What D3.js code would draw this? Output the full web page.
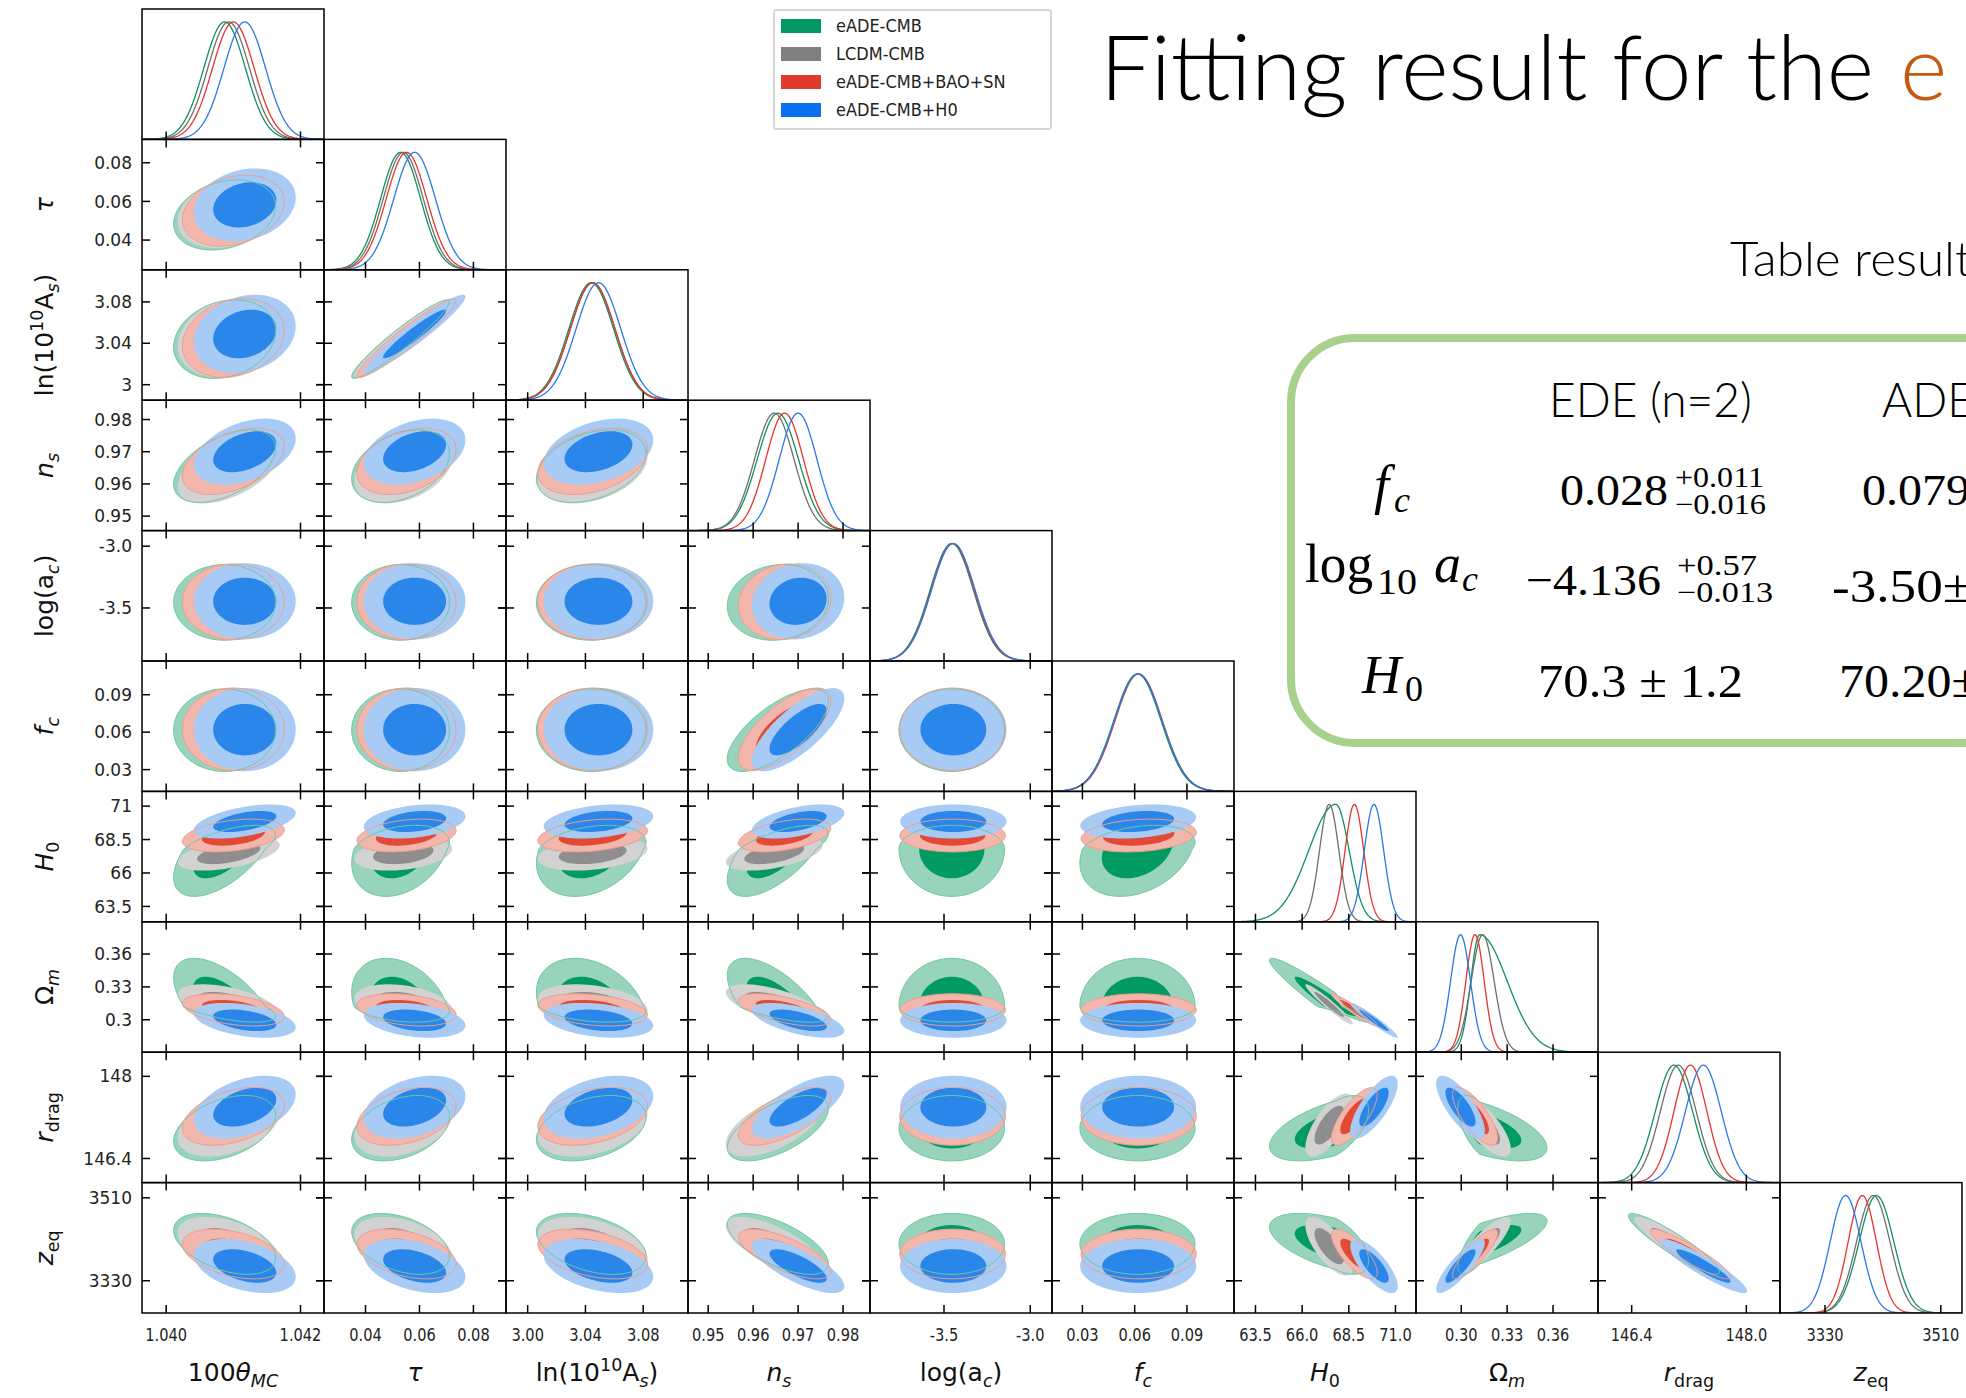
<!DOCTYPE html>
<html>
<head>
<meta charset="utf-8">
<script src="https://cdn.jsdelivr.net/npm/d3@7"></script>
<style>
  body { margin: 0; background: #fff; }
</style>
</head>
<body>
<div id="chart"></div>
<script>
// ---- data ----
const paramNames = ["theta", "tau", "lnAs", "ns", "logac", "fc", "H0", "Om", "rdrag", "zeq"];
const domains = [
  [1.03964, 1.04235], [0.02462, 0.09207], [2.985, 3.111], [0.9455, 0.9860],
  [-3.929, -2.874], [0.01255, 0.117], [62.35, 72.1], [0.2704, 0.3894],
  [145.93, 148.47], [3260, 3543]
];
const xTicks = [
  [1.040, 1.042], [0.04, 0.06, 0.08], [3.00, 3.04, 3.08], [0.95, 0.96, 0.97, 0.98],
  [-3.5, -3.0], [0.03, 0.06, 0.09], [63.5, 66.0, 68.5, 71.0], [0.30, 0.33, 0.36],
  [146.4, 148.0], [3330, 3510]
];
const xTickText = [
  ["1.040", "1.042"], ["0.04", "0.06", "0.08"], ["3.00", "3.04", "3.08"],
  ["0.95", "0.96", "0.97", "0.98"], ["-3.5", "-3.0"], ["0.03", "0.06", "0.09"],
  ["63.5", "66.0", "68.5", "71.0"], ["0.30", "0.33", "0.36"], ["146.4", "148.0"], ["3330", "3510"]
];
const yTickText = [
  [], ["0.04", "0.06", "0.08"], ["3", "3.04", "3.08"], ["0.95", "0.96", "0.97", "0.98"],
  ["-3.5", "-3.0"], ["0.03", "0.06", "0.09"], ["63.5", "66", "68.5", "71"],
  ["0.3", "0.33", "0.36"], ["146.4", "148"], ["3330", "3510"]
];

const seriesNames = ["eADE-CMB", "LCDM-CMB", "eADE-CMB+BAO+SN", "eADE-CMB+H0"];
// peak position and (lower / upper) widths of each parameter
const eadeMode  = [1.04087, 0.0530, 3.044, 0.9655, -3.455, 0.0616, 67.8, 0.3120, 146.99, 3410];
const eadeSigLo = [0.00031, 0.0074, 0.0155, 0.0046, 0.125, 0.0135, 1.45, 0.0058, 0.26, 27];
const eadeSigHi = [0.00031, 0.0074, 0.0155, 0.0046, 0.125, 0.0135, 0.72, 0.0180, 0.26, 27];
const lcdmMode  = [1.04093, 0.0540, 3.045, 0.9647, null, null, 67.45, 0.3140, 147.05, 3405];
const lcdmSig   = [0.00031, 0.0074, 0.0155, 0.0044, null, null, 0.52, 0.0075, 0.25, 26];
const baoMode   = [1.04100, 0.0552, 3.045, 0.9670, -3.450, 0.0623, 68.8, 0.3090, 147.22, 3388];
const baoSig    = [0.00031, 0.0075, 0.0155, 0.0042, 0.125, 0.0135, 0.50, 0.0060, 0.23, 22];
const h0Mode    = [1.04117, 0.0582, 3.049, 0.9700, -3.446, 0.0620, 69.85, 0.2995, 147.40, 3362];
const h0Sig     = [0.00031, 0.0077, 0.0155, 0.0042, 0.126, 0.0136, 0.52, 0.0065, 0.25, 24];

// correlations: [i, j, eADE-CMB, LCDM-CMB, +BAO+SN, +H0]
const corrPairs = [
  [0, 1, 0.25, 0.25, 0.25, 0.2], [0, 2, 0.2, 0.2, 0.2, 0.2], [0, 3, 0.5, 0.5, 0.45, 0.4],
  [0, 6, 0.6, 0.5, 0.35, 0.5], [0, 7, -0.6, -0.5, -0.4, -0.4], [0, 8, 0.4, 0.4, 0.4, 0.4],
  [0, 9, -0.45, -0.45, -0.4, -0.4],
  [1, 2, 0.95, 0.95, 0.95, 0.95], [1, 3, 0.35, 0.35, 0.35, 0.35], [1, 6, 0.3, 0.3, 0.3, 0.3],
  [1, 7, -0.3, -0.3, -0.3, -0.3], [1, 8, 0.35, 0.35, 0.35, 0.35], [1, 9, -0.4, -0.4, -0.4, -0.4],
  [2, 3, 0.35, 0.35, 0.35, 0.35], [2, 6, 0.3, 0.3, 0.3, 0.3], [2, 7, -0.3, -0.3, -0.3, -0.3],
  [2, 8, 0.35, 0.35, 0.35, 0.35], [2, 9, -0.4, -0.4, -0.4, -0.4],
  [3, 4, 0.1, 0, 0.1, 0.1], [3, 5, 0.7, 0, 0.7, 0.75], [3, 6, 0.65, 0.5, 0.45, 0.5],
  [3, 7, -0.65, -0.6, -0.6, -0.6], [3, 8, 0.6, 0.6, 0.65, 0.7], [3, 9, -0.65, -0.7, -0.7, -0.75],
  [5, 6, 0.3, 0, 0.2, 0.25],
  [6, 7, -0.96, -0.96, -0.96, -0.96], [6, 8, 0.55, 0.7, 0.75, 0.75], [6, 9, -0.55, -0.7, -0.75, -0.75],
  [7, 8, -0.6, -0.75, -0.75, -0.75], [7, 9, 0.75, 0.85, 0.85, 0.85], [8, 9, -0.92, -0.92, -0.92, -0.92]
];

// ---- layout ----
const W = 1966, H = 1398;
const margin = {left: 142, top: 9};
const pw = 182, ph = 130.4, tickLen = 8;
const nP = paramNames.length;

const series = [
  {name: seriesNames[0], mode: eadeMode, lo: eadeSigLo, hi: eadeSigHi, col: 2,
    outer: "#98d4bc", inner: "#009a62", line: "#118f5f", edge: "#6fc6a0", swatch: "#009966"},
  {name: seriesNames[1], mode: lcdmMode, lo: lcdmSig, hi: lcdmSig, col: 3,
    outer: "#d2d2d2", inner: "#8e8e8e", line: "#6e6e6e", edge: null, swatch: "#808080"},
  {name: seriesNames[2], mode: baoMode, lo: baoSig, hi: baoSig, col: 4,
    outer: "#f3b6ac", inner: "#e34a36", line: "#e5352b", edge: "#ef9c8e", swatch: "#e23a2a"},
  {name: seriesNames[3], mode: h0Mode, lo: h0Sig, hi: h0Sig, col: 5,
    outer: "#a8cbf5", inner: "#2b86ea", line: "#2a77e8", edge: null, swatch: "#0a6ff0"}
];

const svg = d3.select("#chart").append("svg")
  .attr("width", W).attr("height", H)
  .attr("font-family", "'DejaVu Sans', sans-serif")
  .style("background", "#fff");

const xScales = domains.map(d => d3.scaleLinear().domain(d).range([0, pw]));
const yScales = domains.map(d => d3.scaleLinear().domain(d).range([ph, 0]));

function corr(s, i, j) {
  const row = corrPairs.find(p => (p[0] === i && p[1] === j) || (p[0] === j && p[1] === i));
  return row ? row[s.col] : 0;
}

// closed contour of a (split) bivariate gaussian at radius R
function contour(s, i, j, R) {
  const rho = corr(s, i, j), q = Math.sqrt(1 - rho * rho);
  return d3.range(0, 360, 3).map(a => {
    const t = a * Math.PI / 180;
    const u = R * Math.cos(t), v = R * (rho * Math.cos(t) + q * Math.sin(t));
    return [s.mode[i] + u * (u < 0 ? s.lo[i] : s.hi[i]),
            s.mode[j] + v * (v < 0 ? s.lo[j] : s.hi[j])];
  });
}

function density(s, i, x) {
  const d = x - s.mode[i], sg = d < 0 ? s.lo[i] : s.hi[i];
  return Math.exp(-0.5 * d * d / (sg * sg));
}

const levels = [2.448, 1.515]; // 95%, 68%
const defs = svg.append("defs");
const contentLayer = svg.append("g");
const frameLayer = svg.append("g");

for (let r = 0; r < nP; r++) {
  for (let c = 0; c <= r; c++) {
    const x0 = margin.left + c * pw, y0 = margin.top + r * ph;
    const id = "clip-" + r + "-" + c;
    defs.append("clipPath").attr("id", id)
      .append("rect").attr("width", pw).attr("height", ph);

    const g = contentLayer.append("g")
      .attr("transform", "translate(" + x0 + "," + y0 + ")")
      .attr("clip-path", "url(#" + id + ")");

    const xs = xScales[c];
    if (c === r) {
      // 1D marginals
      const dom = domains[c];
      const grid = d3.range(0, 301).map(k => dom[0] + (dom[1] - dom[0]) * k / 300);
      const yd = d3.scaleLinear().domain([0, 1.11]).range([ph, 0]);
      series.forEach(s => {
        if (s.mode[c] == null) return;
        const line = d3.line().x(d => xs(d)).y(d => yd(density(s, c, d)));
        g.append("path").attr("d", line(grid))
          .attr("fill", "none").attr("stroke", s.line).attr("stroke-width", 1.3);
      });
    } else {
      const ys = yScales[r];
      const line = d3.line().x(d => xs(d[0])).y(d => ys(d[1])).curve(d3.curveLinearClosed);
      const active = series.filter(s => s.mode[c] != null && s.mode[r] != null);
      active.forEach(s => {
        g.append("path").attr("d", line(contour(s, c, r, levels[0]))).attr("fill", s.outer);
        g.append("path").attr("d", line(contour(s, c, r, levels[1]))).attr("fill", s.inner);
      });
      active.filter(s => s.edge).forEach(s => {
        g.append("path").attr("d", line(contour(s, c, r, levels[0])))
          .attr("fill", "none").attr("stroke", s.edge).attr("stroke-width", 1);
      });
    }

    // frame and ticks
    const f = frameLayer.append("g").attr("transform", "translate(" + x0 + "," + y0 + ")");
    f.append("rect").attr("width", pw).attr("height", ph)
      .attr("fill", "none").attr("stroke", "#000").attr("stroke-width", 1.5);
    xTicks[c].forEach(t => {
      f.append("line").attr("x1", xs(t)).attr("x2", xs(t))
        .attr("y1", ph - tickLen).attr("y2", r === nP - 1 ? ph : ph + tickLen)
        .attr("stroke", "#000").attr("stroke-width", 1.5);
    });
    if (c < r) {
      xTicks[r].forEach(t => {
        const y = yScales[r](t);
        f.append("line").attr("x1", c === 0 ? 0 : -tickLen).attr("x2", tickLen)
          .attr("y1", y).attr("y2", y).attr("stroke", "#000").attr("stroke-width", 1.5);
        f.append("line").attr("x1", pw - tickLen).attr("x2", pw)
          .attr("y1", y).attr("y2", y).attr("stroke", "#000").attr("stroke-width", 1.5);
      });
    }
  }
}

// tick labels
for (let r = 1; r < nP; r++) {
  xTicks[r].forEach((t, k) => {
    svg.append("text")
      .attr("x", margin.left - 10)
      .attr("y", margin.top + r * ph + yScales[r](t))
      .attr("dy", "0.36em")
      .attr("text-anchor", "end")
      .attr("font-size", 17)
      .attr("fill", "#222")
      .text(yTickText[r][k]);
  });
}
for (let c = 0; c < nP; c++) {
  xTicks[c].forEach((t, k) => {
    svg.append("g")
      .attr("transform", "translate(" + (margin.left + c * pw + xScales[c](t)) + "," +
        (margin.top + nP * ph + 28) + ")")
      .append("text")
      .attr("transform", "scale(0.86,1)")
      .attr("text-anchor", "middle")
      .attr("font-size", 17)
      .attr("fill", "#222")
      .text(xTickText[c][k]);
  });
}

// axis labels: parts = [text, style]
const axisLabels = [
  [["100", ""], ["θ", "i"], ["MC", "isub"]],
  [["τ", "i"]],
  [["ln(10", ""], ["10", "sup"], ["A", ""], ["s", "isub"], [")", ""]],
  [["n", "i"], ["s", "isub"]],
  [["log(a", ""], ["c", "isub"], [")", ""]],
  [["f", "i"], ["c", "isub"]],
  [["H", "i"], ["0", "sub"]],
  [["Ω", ""], ["m", "isub"]],
  [["r", "i"], ["drag", "sub"]],
  [["z", "i"], ["eq", "sub"]]
];

function writeParts(text, parts, fs) {
  let shift = 0;
  parts.forEach(([str, style]) => {
    const ts = text.append("tspan").text(str);
    let target = 0;
    if (style === "i" || style === "isub") ts.attr("font-style", "italic");
    if (style === "sub" || style === "isub") { ts.attr("font-size", fs * 0.7); target = fs * 0.22; }
    if (style === "sup") { ts.attr("font-size", fs * 0.7); target = -fs * 0.4; }
    if (target !== shift) { ts.attr("dy", target - shift); shift = target; }
  });
}

axisLabels.forEach((parts, i) => {
  const bottom = svg.append("text")
    .attr("x", margin.left + i * pw + pw / 2)
    .attr("y", 1381)
    .attr("text-anchor", "middle")
    .attr("font-size", 25)
    .attr("fill", "#111");
  writeParts(bottom, parts, 25);
  if (i > 0) {
    const side = svg.append("text")
      .attr("transform", "translate(53," + (margin.top + i * ph + ph / 2) + ") rotate(-90)")
      .attr("text-anchor", "middle")
      .attr("font-size", 25)
      .attr("fill", "#111");
    writeParts(side, parts, 25);
  }
});

// legend
const legend = svg.append("g");
legend.append("rect")
  .attr("x", 774).attr("y", 10).attr("width", 277).attr("height", 119).attr("rx", 2)
  .attr("fill", "#fff").attr("stroke", "#d6d6d6").attr("stroke-width", 2);
series.forEach((s, k) => {
  const y = 26 + k * 28;
  legend.append("rect").attr("x", 781).attr("y", y - 7).attr("width", 40).attr("height", 14)
    .attr("fill", s.swatch);
  legend.append("g").attr("transform", "translate(836," + y + ")")
    .append("text").attr("transform", "scale(0.95,1)")
    .attr("dy", "0.35em").attr("font-size", 17).attr("fill", "#222")
    .text(s.name);
});

// title and side notes
const lightFont = "Lato, 'Noto Sans', sans-serif";
function fitText(x, y, str, fs, width, color) {
  const g = svg.append("g");
  const t = g.append("text")
    .attr("font-family", lightFont)
    .attr("font-weight", 300)
    .attr("font-size", fs)
    .attr("fill", color || "#000")
    .text(str);
  const sx = width ? width / t.node().getComputedTextLength() : 1;
  g.attr("transform", "translate(" + x + "," + y + ") scale(" + sx + ",1)");
  return sx;
}
const sxTitle = fitText(1100, 100, "Fitting result for the", 90, 774);
svg.append("text").attr("transform", "translate(1900,100) scale(" + sxTitle + ",1)")
  .attr("font-family", lightFont).attr("font-weight", 300)
  .attr("font-size", 90).attr("fill", "#c55a11").text("e");
fitText(1730, 276, "Table result", 48, 242);

svg.append("rect")
  .attr("x", 1291).attr("y", 338).attr("width", 760).attr("height", 405).attr("rx", 64)
  .attr("fill", "none").attr("stroke", "#a9d18e").attr("stroke-width", 8);

const sxHead = fitText(1549, 417, "EDE (n=2)", 47, 203);
svg.append("text").attr("transform", "translate(1882,417) scale(" + sxHead + ",1)")
  .attr("font-family", lightFont).attr("font-weight", 300)
  .attr("font-size", 47).text("ADE");

const serif = "'Liberation Serif', 'DejaVu Serif', serif";
// math text made of pieces in one text element: [str, x, y, size, italic, length]
function mathText(pieces) {
  const t = svg.append("text").attr("font-family", serif).attr("fill", "#000");
  pieces.forEach(([str, x, y, fs, it, len]) => {
    const ts = t.append("tspan").attr("x", x).attr("y", y).attr("font-size", fs)
      .attr("font-style", it ? "italic" : "normal").text(str);
    if (len) ts.attr("textLength", len).attr("lengthAdjust", "spacingAndGlyphs");
  });
}
// row labels
mathText([["f", 1374, 503, 54, true], ["c", 1394, 512, 36, true]]);
mathText([["log", 1305, 582, 54, false, 68], ["10", 1377, 594, 36, false, 40],
  ["a", 1434, 582, 54, true], ["c", 1462, 591, 36, true]]);
mathText([["H", 1362, 693, 54, true], ["0", 1405, 701, 36, false]]);
// values with error bars
mathText([["0.028", 1560, 505, 44, false, 108], ["+0.011", 1675, 487, 29, false, 89],
  ["−0.016", 1675, 514, 29, false, 91]]);
mathText([["−4.136", 1526, 595, 44, false, 135], ["+0.57", 1677, 575, 29, false, 80],
  ["−0.013", 1677, 602, 29, false, 96]]);
mathText([["70.3 ± 1.2", 1538, 697, 46, false, 205]]);
mathText([["0.079", 1862, 505, 44, false, 108]]);
mathText([["-3.50±", 1832, 602, 46, false, 140]]);
mathText([["70.20±", 1839, 697, 46, false, 140]]);
</script>
</body>
</html>
